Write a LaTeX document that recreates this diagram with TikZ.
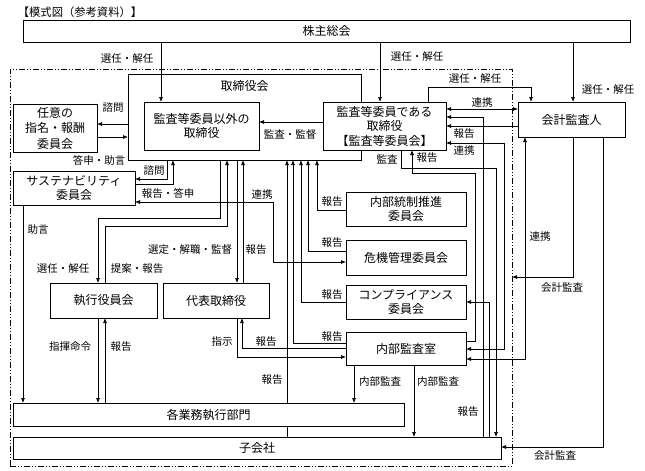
\documentclass[tikz,border=0pt]{standalone}
\usepackage{fontspec}
\setmainfont{Noto Sans CJK JP}
\usetikzlibrary{arrows.meta}

\begin{document}
\begin{tikzpicture}
  [x=1pt,y=-1pt,line width=0.7pt,>={Latex[length=5pt,width=4pt]},
   box/.style={draw,fill=white,align=center,inner sep=1pt,outer sep=0pt,font=\fontsize{12}{14.5}\selectfont},
   lbl/.style={inner sep=0pt,font=\fontsize{10.5}{12}\selectfont}]

  \useasboundingbox (0,0) rectangle (645,471);

  \node[lbl,font=\fontsize{11.3}{13}\selectfont] (title) at (80,12) {【模式図（参考資料）】};
  \node[box,minimum width=607,minimum height=22] (kabu) at (326.5,31) {株主総会};
  \node[draw,dash pattern=on 6pt off 2pt on 1pt off 2pt on 1pt off 2pt,minimum width=502,minimum height=397,outer sep=0pt] (grp) at (261,267.5) {};

  \node[box,minimum width=233,minimum height=86,label={[anchor=center,yshift=-12pt,font=\fontsize{12}{14}\selectfont]north:取締役会}] (torikai) at (244.5,117) {};
  \node[box,minimum width=115,minimum height=48] (igai) at (201.5,126) {監査等委員以外の\\取締役};
  \node[box,minimum width=123,minimum height=48] (iin) at (384.5,126) {監査等委員である\\取締役\\【監査等委員会】};
  \node[box,minimum width=84,minimum height=48,font=\fontsize{12}{15.5}\selectfont] (nini) at (55,128) {任意の\\指名・報酬\\委員会};
  \node[box,minimum width=122,minimum height=34,font=\fontsize{12}{13.5}\selectfont] (sus) at (74,188) {サステナビリティ\\委員会};
  \node[box,minimum width=107,minimum height=35] (shikko) at (103.5,300.5) {執行役員会};
  \node[box,minimum width=106,minimum height=35] (daihyo) at (216,300.5) {代表取締役};
  \node[box,minimum width=391,minimum height=23] (kakugyo) at (208.5,414.5) {各業務執行部門};
  \node[box,minimum width=488,minimum height=22] (kogaisha) at (257,448) {子会社};
  \node[box,minimum width=120,minimum height=34] (naitou) at (406,209) {内部統制推進\\委員会};
  \node[box,minimum width=120,minimum height=35] (kiki) at (406,257.5) {危機管理委員会};
  \node[box,minimum width=120,minimum height=34] (comp) at (406,302) {コンプライアンス\\委員会};
  \node[box,minimum width=120,minimum height=33] (naibu) at (406,348.5) {内部監査室};
  \node[box,minimum width=107,minimum height=35] (kaikei) at (571.5,119.5) {会計監査人};

  % 株主総会
  \foreach \x/\to in {161/igai,380/iin,573/kaikei}
    \draw[->] (\x,0 |- kabu.south) -- (\x,0 |- \to.north);
  \draw[->] (428,0 |- iin.north) |- (531,87) -- (531,0 |- kaikei.north);

  % 監査等委員会 / 会計監査人
  \draw[<->] (iin.east |- 0,109) -- (kaikei.west |- 0,109);
  \draw[->] (kaikei.west |- 0,126) -- (iin.east |- 0,126);
  \draw[->] (483,0 |- kogaisha.north) |- (iin.east |- 0,117);
  \draw[<->] (iin.east |- 0,143) -| (504,349) -- (naibu.east |- 0,349);
  \draw[->] (401,0 |- iin.south) |- (496,168) -- (496,0 |- kogaisha.north);
  \draw[->] (naibu.east |- 0,341) -| (475,173) -| (412,0 |- iin.south);
  \draw[->] (489,0 |- kogaisha.north) |- (comp.east |- 0,302);
  \draw[<->] (525,0 |- kaikei.south) |- (naibu.east |- 0,359);
  \draw[->] (573,0 |- kaikei.south) |- (grp.east |- 0,277);
  \draw[->] (603,0 |- kaikei.south) |- (kogaisha.east |- 0,447);
  \draw[->] (iin.west |- 0,122) -- (igai.east |- 0,122);

  % 取締役会と委員会
  \draw[->] (torikai.west |- 0,124) -- (nini.east |- 0,124);
  \draw[->] (nini.east |- 0,137) -- (torikai.west |- 0,137);
  \draw[->] (167,0 |- torikai.south) |- (sus.east |- 0,179);
  \draw[->] (sus.east |- 0,184) -| (173,0 |- torikai.south);
  \draw[<->] (sus.east |- 0,202) -| (273,262) -- (kiki.west |- 0,262);
  \draw[->] (23,0 |- sus.south) -- (23,0 |- kakugyo.north);
  \foreach \c/\x/\y in {naitou/317/210,kiki/308/251,comp/301/302,naibu/293/343}
    \draw[->] (\c.west |- 0,\y) -| (\x,0 |- torikai.south);

  % 執行側
  \draw[->] (220,0 |- torikai.south) |- (98,218) -- (98,0 |- shikko.north);
  \draw[->] (105,0 |- shikko.north) |- (227,226) -- (227,0 |- torikai.south);
  \draw[->] (237,0 |- torikai.south) -- (237,0 |- daihyo.north);
  \draw[->] (243,0 |- daihyo.north) -- (243,0 |- torikai.south);
  \draw[->] (98,0 |- shikko.south) -- (98,0 |- kakugyo.north);
  \draw[->] (105,0 |- kakugyo.north) -- (105,0 |- shikko.south);
  \draw[->] (237,0 |- daihyo.south) |- (naibu.west |- 0,357);
  \draw[->] (naibu.west |- 0,348) -| (242,0 |- daihyo.south);
  \draw (287,0 |- kogaisha.north) -- (287,0 |- kakugyo.south);
  \draw[->] (287,0 |- kakugyo.north) -- (287,0 |- torikai.south);
  \draw[->] (354,0 |- naibu.south) -- (354,0 |- kakugyo.north);
  \draw[->] (414,0 |- naibu.south) -- (414,0 |- kogaisha.north);

  % labels
  \node[lbl] (l1) at (127,59) {選任・解任};
  \node[lbl] (l2) at (417,57) {選任・解任};
  \node[lbl] (l3) at (608,90) {選任・解任};
  \node[lbl] (l4) at (475,79) {選任・解任};
  \node[lbl] (l5) at (482,103) {連携};
  \node[lbl] (l6) at (464,134) {報告};
  \node[lbl] (l7) at (464,151) {連携};
  \node[lbl] (l8) at (290,135) {監査・監督};
  \node[lbl] (l9) at (387,159) {監査};
  \node[lbl] (l10) at (427,158) {報告};
  \node[lbl] (l11) at (113,108) {諮問};
  \node[lbl] (l12) at (99,160) {答申・助言};
  \node[lbl] (l13) at (154,171) {諮問};
  \node[lbl] (l14) at (168,193) {報告・答申};
  \node[lbl] (l15) at (262,195) {連携};
  \node[lbl] (l16) at (38,230) {助言};
  \node[lbl] (l17) at (63,269) {選任・解任};
  \node[lbl] (l18) at (137,269) {提案・報告};
  \node[lbl] (l19) at (190,250) {選定・解職・監督};
  \node[lbl] (l20) at (256,250) {報告};
  \foreach \y [count=\i] in {202,243,295,337}
    \node[lbl] (lr\i) at (332,\y) {報告};
  \node[lbl] (l21) at (540,237) {連携};
  \node[lbl] (l22) at (562,288) {会計監査};
  \node[lbl] (l23) at (555,456) {会計監査};
  \node[lbl] (l24) at (70,347) {指揮命令};
  \node[lbl] (l25) at (121,347) {報告};
  \node[lbl] (l26) at (222,342) {指示};
  \node[lbl] (l27) at (266,342) {報告};
  \node[lbl] (l28) at (272,380) {報告};
  \node[lbl] (l29) at (380,382) {内部監査};
  \node[lbl] (l30) at (438,382) {内部監査};
  \node[lbl] (l31) at (468,412) {報告};
\end{tikzpicture}
\end{document}
